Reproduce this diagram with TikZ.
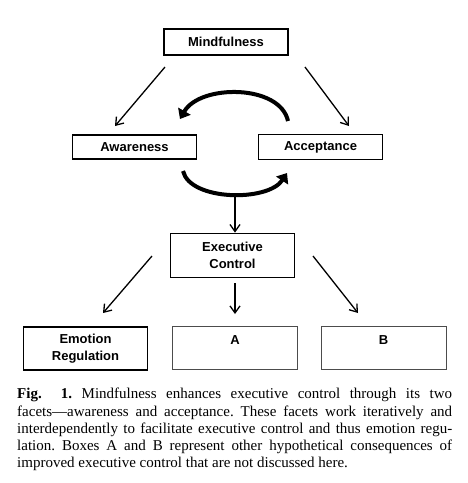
\documentclass[tikz,border=0pt]{standalone}
\usepackage{fontspec}
\setmainfont{Liberation Serif}
\setsansfont{Liberation Sans}
\usetikzlibrary{arrows.meta}
\tikzset{
  box/.style={draw=black, line width=1.8pt, minimum width=124pt, inner sep=0pt, font=\sffamily\bfseries\fontsize{13}{17}\selectfont, align=center},
  thinbox/.style={draw=black!70, line width=0.9pt, minimum width=125pt, minimum height=43pt, inner sep=0pt},
  boxlabel/.style={font=\sffamily\bfseries\fontsize{13}{17}\selectfont, inner sep=0pt},
  conn/.style={line width=1.3pt, -{Straight Barb[length=7pt,width=10pt,line width=1.3pt]}},
  loop/.style={line width=4pt, -{Triangle[length=9pt,width=14pt]}},
}
\begin{document}
\frenchspacing
\begin{tikzpicture}[x=1pt,y=-1pt]
\useasboundingbox (0,0) rectangle (468,483);
\fill[white] (0,0) rectangle (468,483);

\node[box, minimum height=26pt] (mind) at (226,42) {Mindfulness};
\node[box, minimum height=24pt] (aware) at (134.5,147) {Awareness};
\node[box, minimum height=25pt] (accept) at (320.5,147) {Acceptance};
\node[box, minimum height=44pt] (exec) at (232.5,255.5) {Executive\\Control};
\node[box, minimum height=43pt] (emo) at (85.5,348.5) {Emotion\\Regulation};
\node[thinbox] (A) at (235,348) {};
\node[thinbox] (B) at (383.5,348) {};
\node[boxlabel] (Alab) at (235,340) {A};
\node[boxlabel] (Blab) at (383.5,340) {B};

\coordinate (m1) at (165,67);
\coordinate (m2) at (305,67);
\coordinate (a1) at (115,126);
\coordinate (a2) at (349,126);
\draw[conn] (m1) -- (a1);
\draw[conn] (m2) -- (a2);

\coordinate (u1) at (288,121);
\coordinate (u2) at (180,119);
\draw[loop] (u1) .. controls (280,84) and (200,84) .. (u2);
\coordinate (l1) at (183,171);
\coordinate (l2) at (287,173);
\draw[loop] (l1) .. controls (190,201) and (268,202) .. (l2);

\coordinate (v1) at (235,197);
\draw[conn] (v1) -- (exec.north -| v1);

\coordinate (e1) at (152,256);
\coordinate (e2) at (313,256);
\coordinate (e3) at (235,283);
\draw[conn] (e1) -- (103,313);
\draw[conn] (e3) -- (235,314);
\draw[conn] (e2) -- (358,313);

\node[anchor=north west, inner sep=0pt, text width=435pt, align=justify, font=\fontsize{15}{17.3}\selectfont] (cap) at (17,388)
{\textbf{Fig.\ \ 1.} Mindfulness enhances executive control through its two\linebreak
facets---awareness and acceptance. These facets work iteratively and\linebreak
interdependently to facilitate executive control and thus emotion regu-\linebreak
lation. Boxes A and B represent other hypothetical consequences of\linebreak
improved executive control that are not discussed here.};
\end{tikzpicture}
\end{document}
